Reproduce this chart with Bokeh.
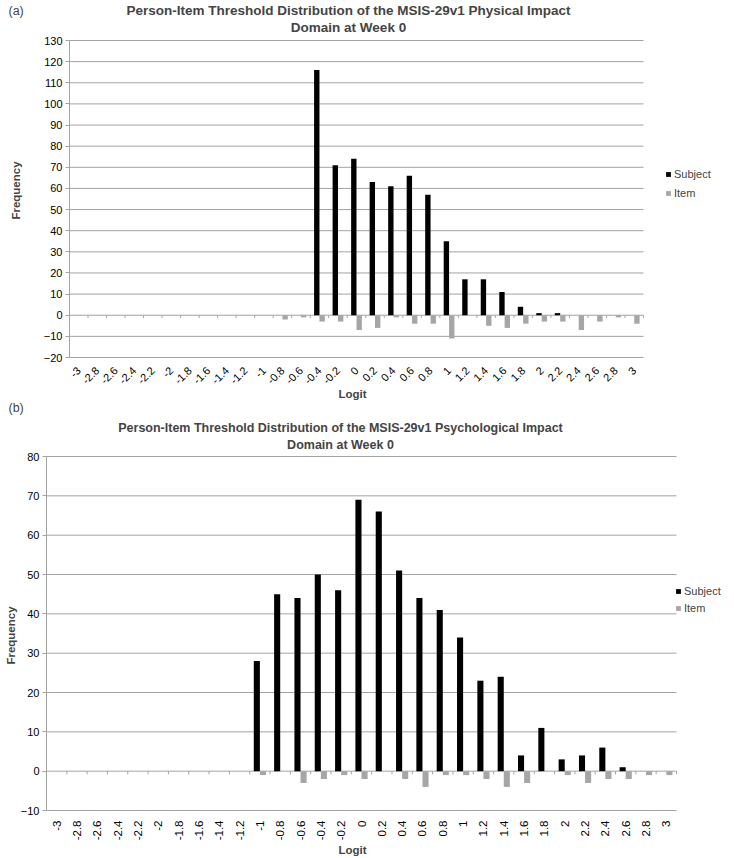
import math
from bokeh.plotting import figure
from bokeh.models import ColumnDataSource, FixedTicker, Label, Legend, LegendItem, Range1d
from bokeh.transform import dodge
from bokeh.layouts import column
from bokeh.embed import file_html
from bokeh.resources import INLINE

# ---------------- data ----------------
logit = ["-3", "-2.8", "-2.6", "-2.4", "-2.2", "-2", "-1.8", "-1.6", "-1.4", "-1.2",
         "-1", "-0.8", "-0.6", "-0.4", "-0.2", "0", "0.2", "0.4", "0.6", "0.8",
         "1", "1.2", "1.4", "1.6", "1.8", "2", "2.2", "2.4", "2.6", "2.8", "3"]

subject_a = [0, 0, 0, 0, 0, 0, 0, 0, 0, 0,
             0, 0, 0, 116, 71, 74, 63, 61, 66, 57,
             35, 17, 17, 11, 4, 1, 1, 0, 0, 0, 0]
item_a = [0, 0, 0, 0, 0, 0, 0, 0, 0, 0,
          0, -2, -1, -3, -3, -7, -6, -1, -4, -4,
          -11, 0, -5, -6, -4, -3, -3, -7, -3, -1, -4]

subject_b = [0, 0, 0, 0, 0, 0, 0, 0, 0, 0,
             28, 45, 44, 50, 46, 69, 66, 51, 44, 41,
             34, 23, 24, 4, 11, 3, 4, 6, 1, 0, 0]
item_b = [0, 0, 0, 0, 0, 0, 0, 0, 0, 0,
          -1, 0, -3, -2, -1, -2, 0, -2, -4, -1,
          -1, -2, -4, -3, 0, -1, -3, -2, -2, -1, -1]

yticks_a = [-20, -10, 0, 10, 20, 30, 40, 50, 60, 70, 80, 90, 100, 110, 120, 130]
yticks_b = [-10, 0, 10, 20, 30, 40, 50, 60, 70, 80]

title_a = ["Person-Item Threshold Distribution of the MSIS-29v1 Physical Impact", "Domain at Week 0"]
title_b = ["Person-Item Threshold Distribution of the MSIS-29v1 Psychological Impact", "Domain at Week 0"]
series_names = ["Subject", "Item"]
x_title = "Logit"
y_title = "Frequency"

# ---------------- style ----------------
FONT = "Liberation Sans"
GRID = "#a3a3a3"
ITEM_COLOR = "#a6a6a6"
W = 734
PAGE_X0 = 0          # page x of the figures' left edge
xs = [float(s) for s in logit]
step = xs[1] - xs[0]
x_lo, x_hi = xs[0] - step / 2, xs[-1] + step / 2


def make(cfg, subject, item, yticks, titles, tag):
    top_page, h = cfg["top"], cfg["height"]
    bot_page = top_page + h
    pl, pr, pt, pb = cfg["plot_px"]          # page pixels of the plot area edges
    # data ranges so that the plot area lands at those pixels; frame = whole figure
    kx = (pr - pl) / (x_hi - x_lo)
    ky = (pb - pt) / (yticks[-1] - yticks[0])
    x0 = x_lo - (pl - PAGE_X0) / kx
    x1 = x_hi + (PAGE_X0 + W - pr) / kx
    y0 = yticks[0] - (bot_page - pb) / ky
    y1 = yticks[-1] + (pt - top_page) / ky

    p = figure(width=W, height=h, x_range=Range1d(x0, x1), y_range=Range1d(y0, y1),
               output_backend="svg", toolbar_location=None, title_location=None,
               min_border=0, min_border_left=0, min_border_right=0,
               min_border_top=0, min_border_bottom=0)
    p.outline_line_color = None
    p.xgrid.grid_line_color = None
    p.ygrid.grid_line_color = None

    ya = p.yaxis[0]
    ya.fixed_location = x_lo
    ya.bounds = (yticks[0], yticks[-1])
    ya.ticker = FixedTicker(ticks=yticks)
    ya.axis_line_color = GRID
    ya.major_tick_line_color = GRID
    ya.major_tick_out = 4
    ya.major_tick_in = 0
    ya.minor_tick_line_color = None
    ya.major_label_text_font = FONT
    ya.major_label_text_font_size = cfg["ytick_size"]
    ya.major_label_text_color = "black"
    ya.major_label_standoff = 3

    xa = p.xaxis[0]
    xa.fixed_location = yticks[0]
    xa.ticker = FixedTicker(ticks=xs)
    xa.major_label_overrides = {x: s for x, s in zip(xs, logit)}
    xa.axis_line_color = None
    xa.major_tick_line_color = None
    xa.minor_tick_line_color = None
    xa.major_label_text_font = FONT
    xa.major_label_text_font_size = cfg["xtick_size"]
    xa.major_label_text_color = "black"
    xa.major_label_orientation = cfg["orient"]
    xa.major_label_standoff = cfg["xstandoff"]

    # horizontal gridlines over the category span only
    gsrc = ColumnDataSource(dict(y=yticks, x0=[x_lo] * len(yticks), x1=[x_hi] * len(yticks)))
    p.segment(x0="x0", x1="x1", y0="y", y1="y", source=gsrc, line_color=GRID, line_width=1)

    src = ColumnDataSource(dict(x=xs, subject=subject, item=item, zero=[0] * len(xs),
                                tick=[-cfg["tick_len"]] * len(xs)))
    bw = cfg["bar_w"] * step
    r1 = p.vbar(x=dodge("x", -bw / 2), top="subject", bottom=0,
                width=bw, source=src, fill_color="black", line_color=None)
    r2 = p.vbar(x=dodge("x", bw / 2), top="item", bottom=0,
                width=bw, source=src, fill_color=ITEM_COLOR, line_color=None)
    # category-boundary tick marks under the zero line
    p.segment(x0=dodge("x", step / 2), x1=dodge("x", step / 2), y0="zero", y1="tick",
              source=src, line_color=GRID, line_width=1)

    def at(px, py):
        return px - PAGE_X0, bot_page - py

    lx, ly = at(*cfg["legend"])
    leg = Legend(items=[LegendItem(label=series_names[0], renderers=[r1]),
                        LegendItem(label=series_names[1], renderers=[r2])],
                 location=(lx, ly), padding=0, margin=0, spacing=cfg["leg_spacing"],
                 glyph_width=6, glyph_height=6, label_standoff=3,
                 label_text_font=FONT, label_text_font_size="11px", label_height=12,
                 border_line_color=None, background_fill_alpha=0)
    p.add_layout(leg)

    cx = cfg["title_cx"]
    for t, yy in zip(titles, cfg["title_y"]):
        x, y = at(cx, yy)
        p.add_layout(Label(x=x, y=y, x_units="screen", y_units="screen", text=t,
                           text_align="center", text_baseline="middle",
                           text_font=FONT, text_font_style="bold",
                           text_font_size=cfg["title_size"]))
    x, y = at(*cfg["tag"])
    p.add_layout(Label(x=x, y=y, x_units="screen", y_units="screen", text=tag,
                       text_align="left", text_baseline="middle",
                       text_font=FONT, text_font_size="12.5px"))
    x, y = at(*cfg["freq"])
    p.add_layout(Label(x=x, y=y, x_units="screen", y_units="screen", text=y_title,
                       angle=math.pi / 2, text_align="center", text_baseline="middle",
                       text_font=FONT, text_font_style="bold", text_font_size="11.5px"))
    x, y = at(*cfg["logit"])
    p.add_layout(Label(x=x, y=y, x_units="screen", y_units="screen", text=x_title,
                       text_align="center", text_baseline="middle",
                       text_font=FONT, text_font_style="bold", text_font_size="11.5px"))
    return p


cfg_a = dict(top=0, height=400, plot_px=(69, 643, 40, 357), orient=math.pi / 4, xstandoff=5,
             ytick_size="11px", xtick_size="11px", title_size="13.5px",
             bar_w=0.29, tick_len=1.3, legend=(665, 199), leg_spacing=7,
             title_cx=348, title_y=(10, 27), tag=(8, 10), freq=(15, 190), logit=(352, 393))
cfg_b = dict(top=400, height=456, plot_px=(46, 676, 456, 810), orient=math.pi / 2, xstandoff=4,
             ytick_size="11px", xtick_size="11.5px", title_size="12.5px",
             bar_w=0.3, tick_len=0.8, legend=(675, 614), leg_spacing=5,
             title_cx=340, title_y=(427, 444), tag=(8, 407), freq=(10, 635), logit=(352, 849))

p1 = make(cfg_a, subject_a, item_a, yticks_a, title_a, "(a)")
p2 = make(cfg_b, subject_b, item_b, yticks_b, title_b, "(b)")

layout = column(p1, p2, spacing=0)
open("out.html", "w").write(file_html(layout, INLINE))
